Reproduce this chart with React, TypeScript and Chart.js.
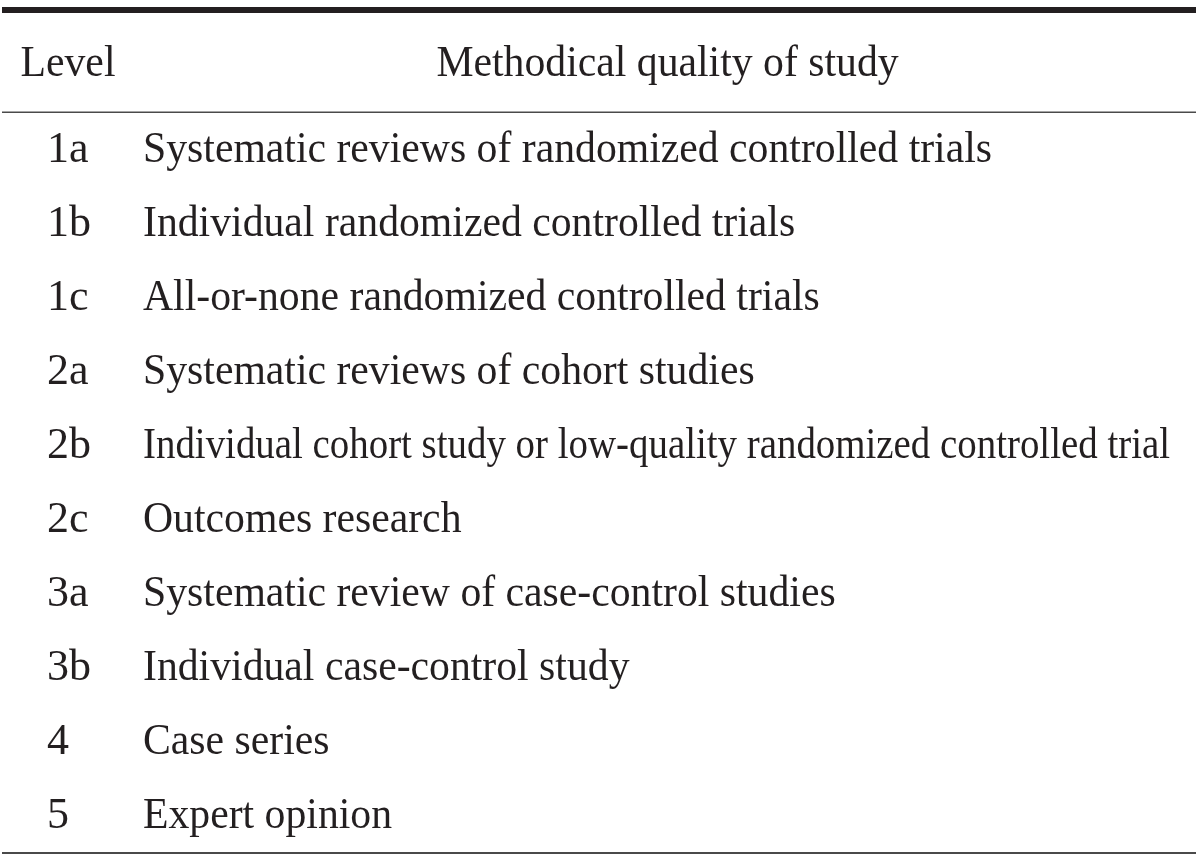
import React, { useEffect, useRef } from "react";
import { Chart, registerables } from "chart.js";

Chart.register(...registerables);

const headers = ["Level", "Methodical quality of study"];
const levels = ["1a", "1b", "1c", "2a", "2b", "2c", "3a", "3b", "4", "5"];
const descriptions = [
  "Systematic reviews of randomized controlled trials",
  "Individual randomized controlled trials",
  "All-or-none randomized controlled trials",
  "Systematic reviews of cohort studies",
  "Individual cohort study or low-quality randomized controlled trial",
  "Outcomes research",
  "Systematic review of case-control studies",
  "Individual case-control study",
  "Case series",
  "Expert opinion",
];

const FONT_FAMILY = '"Liberation Serif", "Times New Roman", serif';
const FONT_SIZE = 44;
const H_SCALE = 0.948;
const TEXT_COLOR = "#231f20";
const RULE_COLOR = "#4a4a4a";

function drawScaled(ctx: CanvasRenderingContext2D, text: string, x: number, y: number, maxW?: number) {
  ctx.save();
  ctx.translate(x, y);
  ctx.scale(H_SCALE, 1);
  if (maxW !== undefined) ctx.fillText(text, 0, 0, maxW / H_SCALE);
  else ctx.fillText(text, 0, 0);
  ctx.restore();
}

const tablePlugin = {
  id: "tableText",
  afterDraw(chart: any) {
    const { ctx, chartArea, scales } = chart;
    const yScale = scales.y;
    ctx.save();
    ctx.font = `${FONT_SIZE}px ${FONT_FAMILY}`;
    ctx.fillStyle = TEXT_COLOR;
    // description column
    ctx.textAlign = "left";
    ctx.textBaseline = "middle";
    const maxW = chartArea.right - chartArea.left - 26;
    descriptions.forEach((d, i) => {
      const py = yScale.getPixelForTick(i);
      drawScaled(ctx, d, chartArea.left, py, maxW);
    });
    // headers
    ctx.textAlign = "center";
    ctx.textBaseline = "alphabetic";
    drawScaled(ctx, headers[0], 68, 76);
    drawScaled(ctx, headers[1], (chartArea.left + chartArea.right) / 2 - 2, 76);
    // rules
    ctx.fillStyle = TEXT_COLOR;
    ctx.fillRect(2, 7, chartArea.right - 2, 6);
    ctx.fillStyle = RULE_COLOR;
    ctx.fillRect(2, chartArea.top - 1.5, chartArea.right - 2, 1.5);
    ctx.fillRect(2, chartArea.bottom - 1, chartArea.right - 2, 2);
    ctx.restore();
  },
};

export default function App() {
  const canvasRef = useRef<HTMLCanvasElement | null>(null);

  useEffect(() => {
    document.body.style.margin = "0";
    const canvas = canvasRef.current;
    if (!canvas) return;
    const chart = new Chart(canvas, {
      type: "bar",
      data: {
        labels: levels,
        datasets: [],
      },
      options: {
        indexAxis: "y",
        animation: false,
        responsive: false,
        devicePixelRatio: 1,
        layout: {
          padding: { top: 113, bottom: 9, left: 47, right: 4 },
        },
        plugins: {
          legend: { display: false },
          tooltip: { enabled: false },
          title: { display: false },
        },
        scales: {
          x: { type: "linear", display: false, min: 0, max: 1 },
          y: {
            type: "category",
            labels: levels,
            offset: true,
            position: "left",
            grid: { display: false, drawTicks: false },
            border: { display: false },
            ticks: {
              autoSkip: false,
              crossAlign: "far",
              padding: 0,
              color: TEXT_COLOR,
              font: { family: FONT_FAMILY, size: FONT_SIZE },
            },
            afterFit: (scale: any) => {
              scale.width = 96;
              scale.paddingTop = 0;
              scale.paddingBottom = 0;
            },
          },
        },
      } as any,
      plugins: [tablePlugin],
    });
    return () => chart.destroy();
  }, []);

  return (
    <div style={{ width: 1200, height: 862, background: "#ffffff" }}>
      <canvas ref={canvasRef} width={1200} height={862} />
    </div>
  );
}
